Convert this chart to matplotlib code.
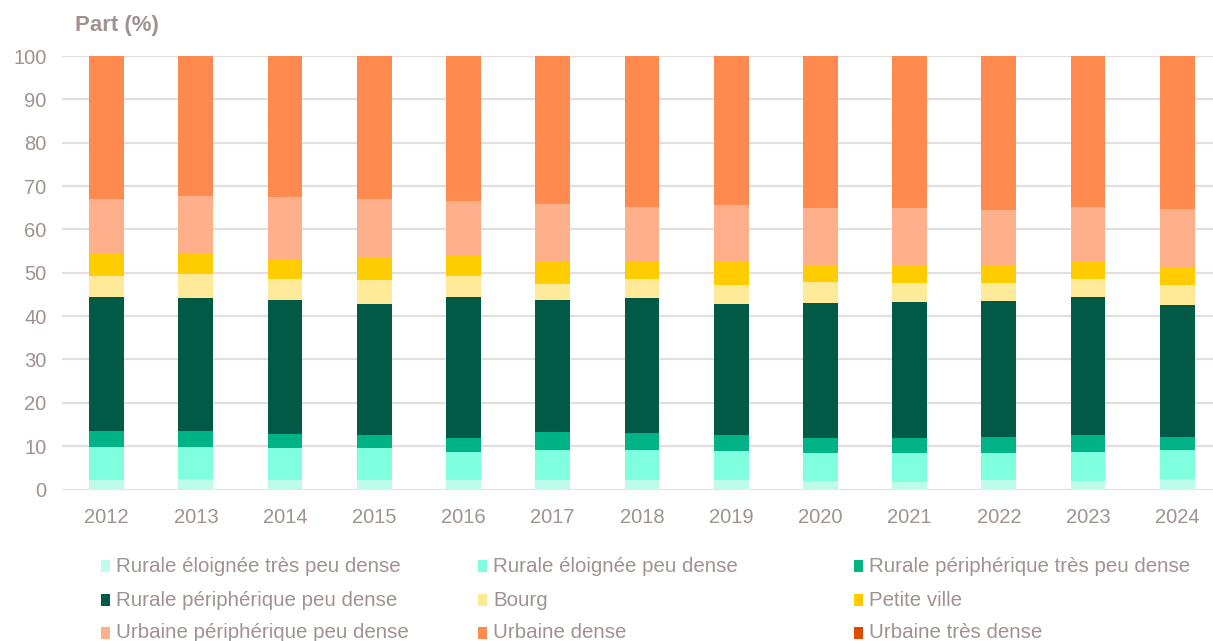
import numpy as np
import matplotlib as mpl
import matplotlib.pyplot as plt
from matplotlib.patches import Rectangle

mpl.rcParams['font.family'] = ['Liberation Sans', 'DejaVu Sans']

years = ['2012', '2013', '2014', '2015', '2016', '2017', '2018',
         '2019', '2020', '2021', '2022', '2023', '2024']

categories = ['Rurale éloignée très peu dense', 'Rurale éloignée peu dense',
              'Rurale périphérique très peu dense', 'Rurale périphérique peu dense',
              'Bourg', 'Petite ville',
              'Urbaine périphérique peu dense', 'Urbaine dense', 'Urbaine très dense']

# share (%) per year, one list per category
rur_elo_tpd = [2.3, 2.5, 2.1, 2.1, 2.1, 2.1, 2.1, 2.1, 1.9, 1.7, 2.1, 1.9, 2.5]
rur_elo_pd = [7.5, 7.3, 7.4, 7.4, 6.5, 7.1, 7.0, 6.7, 6.5, 6.8, 6.4, 6.8, 6.5]
rur_per_tpd = [3.8, 3.6, 3.4, 3.1, 3.2, 4.0, 4.0, 3.7, 3.4, 3.3, 3.7, 3.9, 3.2]
rur_per_pd = [30.9, 30.8, 30.9, 30.2, 32.5, 30.5, 31.1, 30.3, 31.3, 31.4, 31.3, 31.9, 30.3]
bourg = [4.7, 5.4, 4.7, 5.5, 4.9, 3.7, 4.3, 4.4, 4.8, 4.4, 4.2, 4.0, 4.7]
petite_ville = [5.3, 4.9, 4.7, 5.4, 4.8, 5.2, 4.0, 5.4, 3.9, 4.2, 3.8, 4.2, 4.2]
urb_per_pd = [12.5, 13.1, 14.2, 13.3, 12.5, 13.3, 12.7, 13.0, 13.2, 13.2, 12.9, 12.5, 13.2]
urb_dense = [33.0, 32.4, 32.6, 33.0, 33.5, 34.1, 34.8, 34.4, 35.0, 35.0, 35.6, 34.8, 35.4]
urb_tres_dense = [0, 0, 0, 0, 0, 0, 0, 0, 0, 0, 0, 0, 0]

series = [rur_elo_tpd, rur_elo_pd, rur_per_tpd, rur_per_pd, bourg,
          petite_ville, urb_per_pd, urb_dense, urb_tres_dense]
colors = ['#BDFBEA', '#7FFFDD', '#00B386', '#005A45', '#FFEA9A',
          '#FFCC00', '#FFAF8A', '#FF8A50', '#DD4A00']

txt = '#A0928E'

fig = plt.figure(figsize=(12.13, 6.41), dpi=100)
W, H = 1213., 641.
ax = fig.add_axes([62 / W, 1 - 489.5 / H, (1213 - 62) / W, (489.5 - 56) / H])

x = np.arange(len(years))
bottom = np.zeros(len(years))
for vals, col in zip(series, colors):
    vals = np.array(vals, dtype=float)
    ax.bar(x, vals, 0.39, bottom=bottom, color=col, linewidth=0, zorder=3)
    bottom += vals

ax.set_xlim(-0.5, 12.4)
ax.set_ylim(0, 100)
ax.set_yticks(np.arange(0, 101, 10))
ax.set_xticks(x)
ax.set_xticklabels(years)
ax.tick_params(length=0, labelsize=14.5, labelcolor=txt)
ax.tick_params(axis='y', pad=11)
ax.tick_params(axis='x', pad=13)
ax.grid(axis='y', color='#E3DFDF', linewidth=1.6, zorder=0)
for s in ax.spines.values():
    s.set_visible(False)

fig.text(75 / W, 1 - 26 / H, 'Part (%)', fontsize=16, fontweight='bold',
         color=txt, ha='left', va='center')

# legend, 3 columns
col_x = [101, 478, 854]
row_y = [566, 600, 633]
for i, (lab, col) in enumerate(zip(categories, colors)):
    cx = col_x[i % 3]
    cy = row_y[i // 3]
    fig.add_artist(Rectangle((cx / W, 1 - (cy + 6) / H), 9 / W, 12 / H,
                             transform=fig.transFigure, color=col, lw=0))
    fig.text((cx + 15) / W, 1 - cy / H, lab, fontsize=14.8, color=txt,
             ha='left', va='center')

fig.savefig('out.png', dpi=100)
